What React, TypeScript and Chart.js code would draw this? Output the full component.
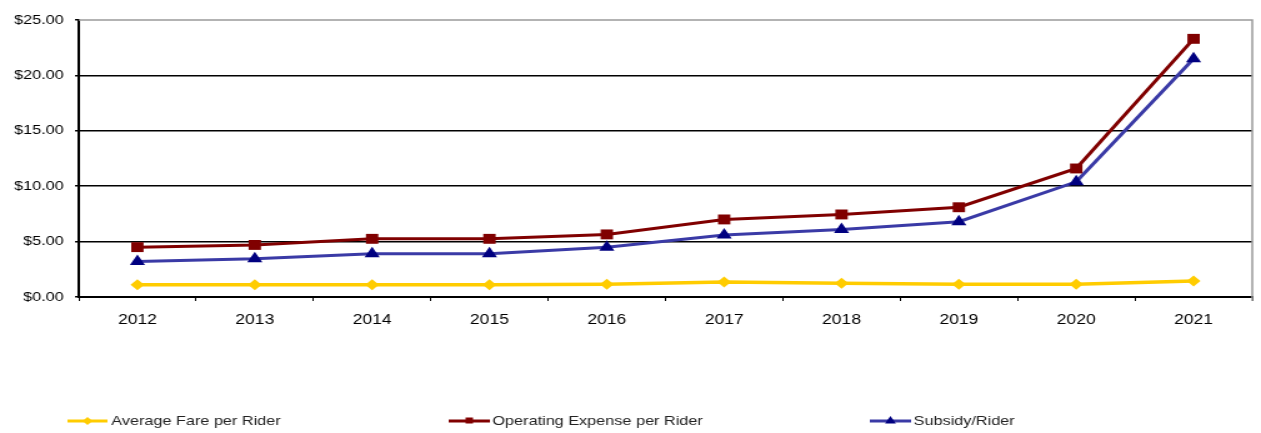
import React, { useEffect, useRef } from 'react';
import { Chart, registerables } from 'chart.js';

Chart.register(...registerables);

const categories = ['2012', '2013', '2014', '2015', '2016', '2017', '2018', '2019', '2020', '2021'];
const averageFare = [1.1, 1.1, 1.1, 1.1, 1.15, 1.35, 1.25, 1.15, 1.15, 1.45];
const operatingExpense = [4.5, 4.7, 5.25, 5.25, 5.65, 7.0, 7.45, 8.1, 11.6, 23.3];
const subsidyPerRider = [3.2, 3.45, 3.9, 3.9, 4.5, 5.6, 6.1, 6.8, 10.4, 21.5];
const seriesLabels = ['Average Fare per Rider', 'Operating Expense per Rider', 'Subsidy/Rider'];
const yMin = 0;
const yMax = 25;
const yStep = 5;

const FONT = '"Liberation Sans", Arial, sans-serif';
const INTERNAL_W = 1009;
const H = 433;

const legendSlots = [
  { x0: 54, x1: 86, tx: 89, shape: 'diamond' },
  { x0: 359, x1: 392, tx: 394, shape: 'square' },
  { x0: 696, x1: 729, tx: 731, shape: 'triangle' },
];

const borderPlugin = {
  id: 'grayBorder',
  beforeDatasetsDraw(chart: any) {
    const { ctx, chartArea } = chart;
    ctx.save();
    ctx.strokeStyle = '#9a9a9a';
    ctx.lineWidth = 1.5;
    ctx.beginPath();
    ctx.moveTo(chartArea.left, chartArea.top);
    ctx.lineTo(chartArea.right, chartArea.top);
    ctx.lineTo(chartArea.right, chartArea.bottom + 4);
    ctx.stroke();
    ctx.restore();
  },
};

const legendPlugin = {
  id: 'bottomLegend',
  afterDraw(chart: any) {
    const { ctx } = chart;
    const y = 421;
    chart.data.datasets.forEach((ds: any, i: number) => {
      const s = legendSlots[i];
      if (!s) return;
      ctx.save();
      ctx.strokeStyle = ds.borderColor;
      ctx.lineWidth = 3;
      ctx.beginPath();
      ctx.moveTo(s.x0, y);
      ctx.lineTo(s.x1, y);
      ctx.stroke();
      const cx = (s.x0 + s.x1) / 2;
      ctx.fillStyle = ds.pointBackgroundColor;
      ctx.beginPath();
      if (s.shape === 'diamond') {
        const r = 4;
        ctx.moveTo(cx, y - r);
        ctx.lineTo(cx + r, y);
        ctx.lineTo(cx, y + r);
        ctx.lineTo(cx - r, y);
      } else if (s.shape === 'square') {
        ctx.rect(cx - 3, y - 3.5, 6, 6);
      } else {
        const r = 5;
        ctx.moveTo(cx, y - r);
        ctx.lineTo(cx + r * 0.866, y + r / 2);
        ctx.lineTo(cx - r * 0.866, y + r / 2);
      }
      ctx.closePath();
      ctx.fill();
      ctx.fillStyle = '#222';
      ctx.font = `13px ${FONT}`;
      ctx.textBaseline = 'middle';
      ctx.textAlign = 'left';
      ctx.fillText(ds.label, s.tx, y + 0.5);
      ctx.restore();
    });
  },
};

export default function App() {
  const ref = useRef<HTMLCanvasElement | null>(null);

  useEffect(() => {
    document.body.style.margin = '0';
    const canvas = ref.current;
    if (!canvas) return;
    const chart = new Chart(canvas, {
      type: 'line',
      data: {
        labels: categories,
        datasets: [
          {
            label: seriesLabels[0],
            data: averageFare,
            borderColor: '#FFCC00',
            backgroundColor: '#FFCC00',
            pointBackgroundColor: '#FFCC00',
            pointBorderColor: '#FFCC00',
            pointStyle: 'rectRot',
            pointRadius: 5.5,
            pointBorderWidth: 0,
            borderWidth: 3.5,
            tension: 0,
          },
          {
            label: seriesLabels[1],
            data: operatingExpense,
            borderColor: '#800000',
            backgroundColor: '#800000',
            pointBackgroundColor: '#800000',
            pointBorderColor: '#800000',
            pointStyle: 'rect',
            pointRadius: 7,
            pointBorderWidth: 0,
            borderWidth: 3,
            tension: 0,
          },
          {
            label: seriesLabels[2],
            data: subsidyPerRider,
            borderColor: '#3a3aa6',
            backgroundColor: '#000080',
            pointBackgroundColor: '#000080',
            pointBorderColor: '#000080',
            pointStyle: 'triangle',
            pointRadius: 7,
            pointBorderWidth: 0,
            borderWidth: 3,
            tension: 0,
          },
        ],
      },
      options: {
        responsive: false,
        animation: false,
        devicePixelRatio: 1,
        layout: { padding: { top: 20, right: 5, bottom: 0, left: 0 } },
        plugins: {
          legend: { display: false },
          tooltip: { enabled: false },
        },
        scales: {
          x: {
            type: 'category',
            offset: true,
            grid: {
              offset: true,
              drawOnChartArea: false,
              drawTicks: true,
              tickLength: 4,
              color: '#000',
              lineWidth: 1,
            },
            border: { display: true, color: '#000', width: 2 },
            ticks: {
              color: '#000',
              font: { family: FONT, size: 14 },
              padding: 11,
              maxRotation: 0,
              autoSkip: false,
            },
            afterFit(scale: any) {
              scale.height = 136;
            },
          },
          y: {
            min: yMin,
            max: yMax,
            grid: {
              color: (c: any) => (c.tick && c.tick.value === yMax ? 'rgba(0,0,0,0)' : '#000'),
              tickColor: '#000',
              lineWidth: 1.5,
              tickLength: 3,
              drawTicks: true,
            },
            border: { display: true, color: '#000', width: 2 },
            ticks: {
              stepSize: yStep,
              color: '#000',
              font: { family: FONT, size: 13 },
              padding: 9,
              callback: (v: any) => '$' + Number(v).toFixed(2),
            },
            afterFit(scale: any) {
              scale.width = 63;
            },
          },
        },
      },
      plugins: [borderPlugin, legendPlugin],
    });
    return () => chart.destroy();
  }, []);

  return (
    <div style={{ width: '1261px', height: H + 'px' }}>
      <canvas
        ref={ref}
        width={INTERNAL_W}
        height={H}
        style={{ width: '1261px', height: H + 'px', display: 'block' }}
      />
    </div>
  );
}
